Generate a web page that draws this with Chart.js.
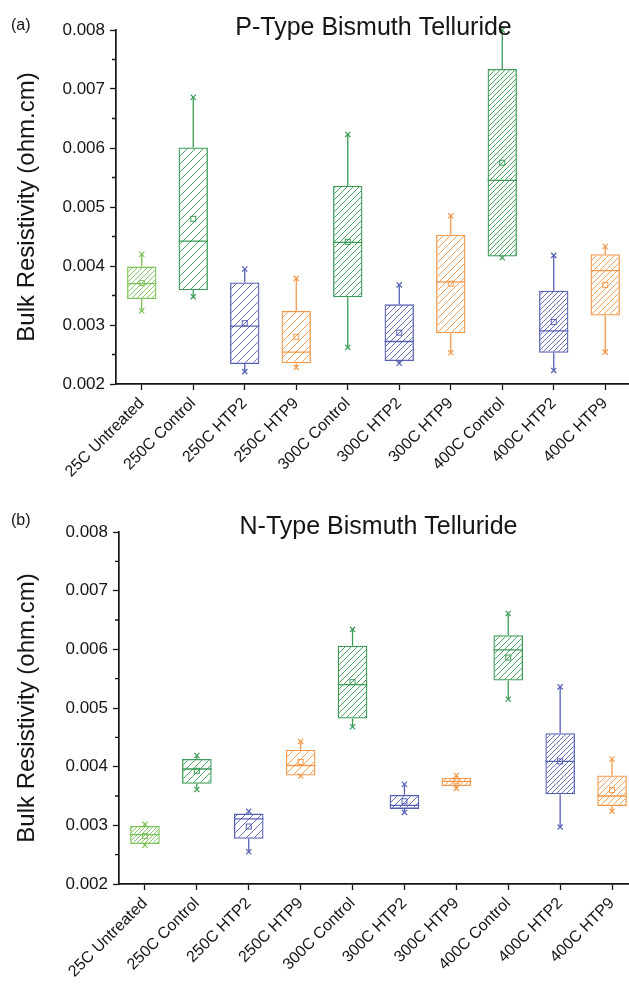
<!DOCTYPE html>
<html>
<head>
<meta charset="utf-8">
<script src="https://cdn.jsdelivr.net/npm/chart.js@4.4.1/dist/chart.umd.min.js"></script>
<style>
  html, body { margin: 0; padding: 0; background: #fff; overflow: hidden; }
  .panel { position: absolute; left: 0; width: 645px; }
</style>
</head>
<body>
<div class="panel" style="top:0;height:495px"><canvas id="pChart" width="645" height="495"></canvas></div>
<div class="panel" style="top:500px;height:491px"><canvas id="nChart" width="645" height="491"></canvas></div>
<script>
/* globals Chart:false */

(function () {
  'use strict'

  var categories = ['25C Untreated', '250C Control', '250C HTP2', '250C HTP9', '300C Control',
    '300C HTP2', '300C HTP9', '400C Control', '400C HTP2', '400C HTP9']
  var yTicks = [0.002, 0.003, 0.004, 0.005, 0.006, 0.007, 0.008]

  // P-type box statistics
  var pMin    = [0.00324, 0.00348, 0.00221, 0.00228, 0.00262, 0.00235, 0.00253, 0.00414, 0.00223, 0.00254]
  var pQ1     = [0.00344, 0.00359, 0.00234, 0.00235, 0.00347, 0.00239, 0.00286, 0.00416, 0.00253, 0.00316]
  var pMedian = [0.00370, 0.00442, 0.00298, 0.00254, 0.00440, 0.00272, 0.00373, 0.00545, 0.00290, 0.00392]
  var pMean   = [0.00371, 0.00480, 0.00303, 0.00280, 0.00441, 0.00287, 0.00370, 0.00575, 0.00305, 0.00368]
  var pQ3     = [0.00399, 0.00601, 0.00372, 0.00324, 0.00536, 0.00335, 0.00453, 0.00734, 0.00358, 0.00420]
  var pMax    = [0.00420, 0.00686, 0.00395, 0.00379, 0.00623, 0.00368, 0.00485, 0.00800, 0.00418, 0.00433]

  // N-type box statistics
  var nMin    = [0.00266, 0.00361, 0.00255, 0.00384, 0.00468, 0.00322, 0.00363, 0.00515, 0.00297, 0.00324]
  var nQ1     = [0.00268, 0.00371, 0.00277, 0.00385, 0.00482, 0.00328, 0.00367, 0.00547, 0.00353, 0.00333]
  var nMedian = [0.00284, 0.00396, 0.00311, 0.00402, 0.00540, 0.00334, 0.00375, 0.00599, 0.00409, 0.00350]
  var nMean   = [0.00282, 0.00393, 0.00298, 0.00408, 0.00544, 0.00341, 0.00375, 0.00586, 0.00409, 0.00360]
  var nQ3     = [0.00299, 0.00413, 0.00320, 0.00429, 0.00606, 0.00352, 0.00381, 0.00624, 0.00457, 0.00385]
  var nMax    = [0.00302, 0.00419, 0.00324, 0.00443, 0.00634, 0.00370, 0.00385, 0.00661, 0.00536, 0.00413]

  var FONT = '"Liberation Sans", Arial, sans-serif'
  var INK = '#151515'
  var LGREEN = '#7cc258', GREEN = '#3b9c55', BLUE = '#5560b4', ORANGE = '#f3984a'
  var boxColors = [LGREEN, GREEN, BLUE, ORANGE, GREEN, BLUE, ORANGE, GREEN, BLUE, ORANGE]

  function hatch(color, gap) {
    var c = document.createElement('canvas')
    c.width = gap
    c.height = gap
    var g = c.getContext('2d')
    g.strokeStyle = color
    g.globalAlpha = 0.9
    g.lineWidth = 1
    g.beginPath()
    g.moveTo(0, gap); g.lineTo(gap, 0)
    g.moveTo(-2, 2); g.lineTo(2, -2)
    g.moveTo(gap - 2, gap + 2); g.lineTo(gap + 2, gap - 2)
    g.stroke()
    return g.createPattern(c, 'repeat')
  }

  // whiskers, median, mean and min/max marks on top of the bars
  var boxPlot = {
    id: 'boxPlot',
    afterDatasetsDraw: function (chart, args, o) {
      var ctx = chart.ctx
      var y = chart.scales.y
      var meta = chart.getDatasetMeta(0)
      ctx.save()
      meta.data.forEach(function (bar, i) {
        var x = bar.x
        var hw = bar.width / 2
        var top = y.getPixelForValue(o.q3[i])
        var bot = y.getPixelForValue(o.q1[i])
        var hi = y.getPixelForValue(o.max[i])
        var lo = y.getPixelForValue(o.min[i])
        var med = y.getPixelForValue(o.median[i])
        var mu = y.getPixelForValue(o.mean[i])
        ctx.strokeStyle = boxColors[i]
        ctx.lineWidth = 1.3
        ctx.beginPath()
        ctx.moveTo(x, top); ctx.lineTo(x, hi)
        ctx.moveTo(x, bot); ctx.lineTo(x, lo)
        ctx.moveTo(x - hw, med); ctx.lineTo(x + hw, med)
        ctx.stroke()
        ctx.lineWidth = 1
        ctx.strokeRect(x - 2.5, mu - 2.5, 5, 5)
        ctx.lineWidth = 1.2
        ctx.beginPath()
        ;[hi, lo].forEach(function (py) {
          ctx.moveTo(x - 2.6, py - 2.6); ctx.lineTo(x + 2.6, py + 2.6)
          ctx.moveTo(x - 2.6, py + 2.6); ctx.lineTo(x + 2.6, py - 2.6)
        })
        ctx.stroke()
      })
      ctx.restore()
    },
    afterDraw: function (chart, args, o) {
      var ctx = chart.ctx
      var y = chart.scales.y
      var area = chart.chartArea
      ctx.save()
      // minor ticks halfway between labels
      ctx.strokeStyle = INK
      ctx.lineWidth = 1.3
      ctx.beginPath()
      for (var k = 0; k < yTicks.length - 1; k++) {
        var py = y.getPixelForValue((yTicks[k] + yTicks[k + 1]) / 2)
        ctx.moveTo(area.left, py); ctx.lineTo(area.left - 4, py)
      }
      ctx.stroke()
      ctx.fillStyle = INK
      ctx.textBaseline = 'middle'
      ctx.textAlign = 'left'
      ctx.font = '16px ' + FONT
      ctx.fillText(o.panel, 11, o.panelY)
      ctx.textAlign = 'center'
      ctx.font = '25px ' + FONT
      ctx.fillText(o.title, (area.left + area.right) / 2, o.titleY)
      ctx.restore()
    }
  }

  function makeChart(id, s) {
    var ctx = document.getElementById(id).getContext('2d')
    return new Chart(ctx, {
      type: 'bar',
      data: {
        labels: categories,
        datasets: [{
          data: s.q1.map(function (v, i) { return [v, s.q3[i]] }),
          backgroundColor: boxColors.map(function (c, i) { return hatch(c, s.gaps[i]) }),
          borderColor: boxColors,
          borderWidth: 1.3,
          borderSkipped: false,
          barPercentage: 0.57,
          categoryPercentage: 1
        }]
      },
      plugins: [boxPlot],
      options: {
        responsive: false,
        animation: false,
        layout: { padding: { top: s.top, right: s.right, left: 0, bottom: 0 } },
        plugins: {
          legend: { display: false },
          tooltip: { enabled: false },
          boxPlot: s
        },
        scales: {
          x: {
            offset: true,
            border: { color: INK, width: 1.7 },
            grid: { offset: false, drawOnChartArea: false, tickLength: 6, tickWidth: 1.3, tickColor: INK },
            ticks: { autoSkip: false, minRotation: 45, maxRotation: 45, padding: 4, color: INK, font: { family: FONT, size: 16 } },
            afterFit: function (sc) { sc.height = s.xHeight }
          },
          y: {
            min: yTicks[0],
            max: yTicks[yTicks.length - 1],
            border: { color: INK, width: 1.7 },
            grid: { drawOnChartArea: false, tickLength: 6, tickWidth: 1.3, tickColor: INK },
            ticks: {
              stepSize: 0.001,
              padding: 5,
              color: INK,
              font: { family: FONT, size: 17 },
              callback: function (v) { return v.toFixed(3) }
            },
            title: {
              display: true,
              text: 'Bulk Resistivity (ohm.cm)',
              color: INK,
              font: { family: FONT, size: 24 },
              padding: { top: 13, bottom: 0 }
            },
            afterFit: function (sc) { sc.width = s.yWidth }
          }
        }
      }
    })
  }

  makeChart('pChart', {
    q1: pQ1, q3: pQ3, median: pMedian, mean: pMean, min: pMin, max: pMax,
    gaps: [5, 8, 8, 8, 6, 6, 7, 5, 5, 6],
    top: 30, right: 14, xHeight: 111, yWidth: 116,
    panel: '(a)', panelY: 26, title: 'P-Type Bismuth Telluride', titleY: 28
  })

  makeChart('nChart', {
    q1: nQ1, q3: nQ3, median: nMedian, mean: nMean, min: nMin, max: nMax,
    gaps: [4, 7, 8, 8, 6, 7, 5, 6, 5, 6],
    top: 32, right: 7, xHeight: 107, yWidth: 119,
    panel: '(b)', panelY: 21, title: 'N-Type Bismuth Telluride', titleY: 27
  })
}())
</script>
</body>
</html>
